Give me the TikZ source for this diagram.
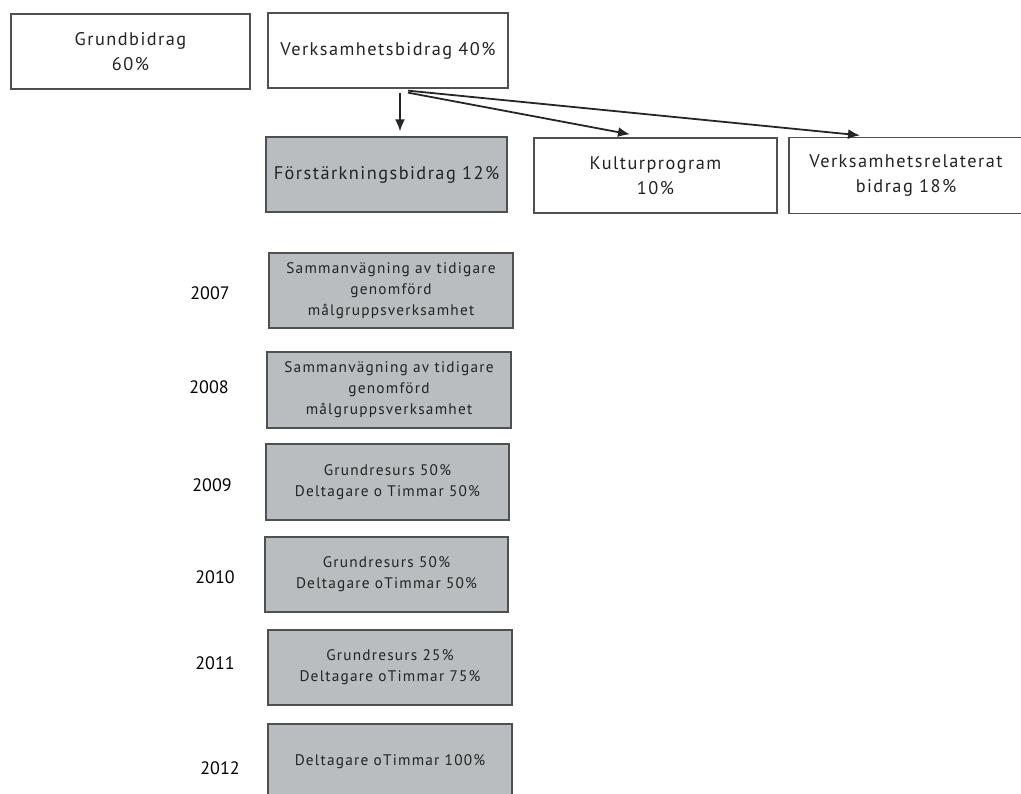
\documentclass[tikz,border=0pt]{standalone}
\usepackage{fontspec}
\setmainfont{PT Sans}
\newfontfamily\boxfont[LetterSpace=8]{PT Sans}
\usepackage{xcolor}
\usetikzlibrary{arrows.meta}
\definecolor{boxgray}{RGB}{185,189,191}
\definecolor{boxline}{RGB}{80,80,80}
\definecolor{boxtext}{RGB}{35,35,35}

\begin{document}
\begin{tikzpicture}[x=1pt,y=-1pt,>={Latex[length=12pt,width=10pt]},
box/.style={draw=boxline,line width=1.3pt,align=center,inner sep=0pt,text=boxtext,
  minimum width=240pt,minimum height=75pt,font=\boxfont\fontsize{18.3}{25}\selectfont},
yearbox/.style={box,fill=boxgray,minimum width=244pt,font=\boxfont\fontsize{15.3}{21}\selectfont},
year/.style={text=black,font=\fontsize{18}{20}\selectfont},
arr/.style={->,line width=1.8pt,draw=black!85}]
\useasboundingbox (0,0) rectangle (1021,794);
\clip (0,0) rectangle (1021,794);
% top row
\node[box,minimum width=239pt] (grund) at (130.5,51.5) {Grundbidrag\\60\%};
\node[box] (verks) at (388,50.5) {Verksamhetsbidrag 40\%};
% parts of verksamhetsbidrag
\node[box,fill=boxgray,minimum width=241pt] (forst) at (386.5,174.5) {Förstärkningsbidrag 12\%};
\node[box,minimum width=243pt] (kultur) at (655.5,175.5) {Kulturprogram\\10\%};
\node[box,minimum width=234pt,minimum height=76pt] (verksrel) at (906,175.5) {Verksamhetsrelaterat\\bidrag 18\%};
\draw[arr] ([xshift=12pt,yshift=-4pt]verks.south) -- ([xshift=13.5pt,yshift=5pt]forst.north);
\draw[arr] ([xshift=20pt,yshift=-4pt]verks.south) -- ([xshift=-25.5pt,yshift=3pt]kultur.north);
\draw[arr] ([xshift=20pt,yshift=-2pt]verks.south) -- ([xshift=-46pt,yshift=1.5pt]verksrel.north);
% years
\node[year] (y07) at (210,293) {2007};
\node[yearbox] (b07) at (391,290.5) {Sammanvägning av tidigare\\genomförd\\målgruppsverksamhet};
\node[year] (y08) at (209,387) {2008};
\node[yearbox,minimum height=76pt] (b08) at (389,390) {Sammanvägning av tidigare\\genomförd\\målgruppsverksamhet};
\node[year] (y09) at (212,485) {2009};
\node[yearbox,minimum width=243pt,minimum height=76pt] (b09) at (387.5,482) {Grundresurs 50\%\\Deltagare o Timmar 50\%};
\node[year] (y10) at (215,577) {2010};
\node[yearbox,minimum width=243pt] (b10) at (386.5,574.5) {Grundresurs 50\%\\Deltagare oTimmar 50\%};
\node[year] (y11) at (215,663) {2011};
\node[yearbox] (b11) at (390,667.5) {Grundresurs 25\%\\Deltagare oTimmar 75\%};
\node[year] (y12) at (220,768) {2012};
\node[yearbox,minimum height=76pt] (b12) at (390,762) {Deltagare oTimmar 100\%};
\end{tikzpicture}
\end{document}
